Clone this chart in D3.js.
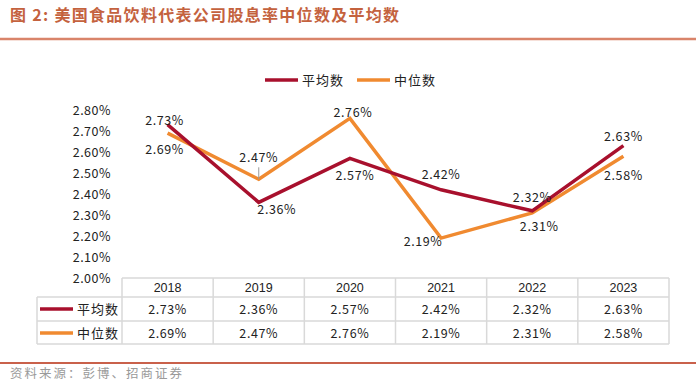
<!DOCTYPE html>
<html>
<meta charset="utf-8">
<head>
    <script src="https://d3js.org/d3.v7.min.js"></script>
    <style>
        body { margin: 0; background: #fff; }
        text { font-family: "Noto Sans CJK SC", "Noto Sans", sans-serif; }
    </style>
</head>
<body>
    <script>
        // data
        var years = ["2018", "2019", "2020", "2021", "2022", "2023"];
        var meanVals = [2.73, 2.36, 2.57, 2.42, 2.32, 2.63];
        var medianVals = [2.69, 2.47, 2.76, 2.19, 2.31, 2.58];
        var yTicks = [2.0, 2.1, 2.2, 2.3, 2.4, 2.5, 2.6, 2.7, 2.8];
        var seriesNames = ["平均数", "中位数"];

        // label offsets from each point (label placement only)
        var meanOffsets = [[-3, -4], [18, 7], [5, 17], [0, -15], [0, -13], [0, -9]];
        var medianOffsets = [[-3, 16], [0, -22], [3, -6], [-18, 3], [7, 14], [0, 19]];

        var width = 700,
            height = 383;

        var colors = ["#a8102d", "#f08a30"];
        var fmt = function(v) { return v.toFixed(2) + "%"; };

        var svg = d3.select("body").append("svg")
            .attr("width", width)
            .attr("height", height);

        // title
        svg.append("text")
            .attr("x", 10)
            .attr("y", 21)
            .attr("fill", "#c4623e")
            .attr("font-size", 16)
            .attr("font-weight", 600)
            .attr("letter-spacing", 1.3)
            .text("图 2:  美国食品饮料代表公司股息率中位数及平均数");

        svg.append("line")
            .attr("x1", 0).attr("x2", 696)
            .attr("y1", 39).attr("y2", 39)
            .attr("stroke", "#d9846a")
            .attr("stroke-width", 2.5);

        var x = d3.scaleBand()
            .domain(years)
            .range([122, 669]);

        var y = d3.scaleLinear()
            .domain([2.0, 2.8])
            .range([278, 110]);

        var cx = function(i) { return x(years[i]) + x.bandwidth() / 2; };

        // y axis labels
        var yAxis = d3.axisLeft(y)
            .tickValues(yTicks)
            .tickSize(0)
            .tickPadding(0)
            .tickFormat(fmt);

        var gy = svg.append("g")
            .attr("transform", "translate(111,0)")
            .call(yAxis);
        gy.select(".domain").remove();
        gy.selectAll("text")
            .attr("font-size", 12.5)
            .attr("letter-spacing", 0.5)
            .attr("fill", "#222")
            .style("font-family", "\"Noto Sans CJK SC\", sans-serif");

        // legend
        var legendX = [265, 357];
        seriesNames.forEach(function(name, k) {
            var lg = svg.append("g").attr("transform", "translate(" + legendX[k] + ",80)");
            lg.append("line")
                .attr("x1", 0).attr("x2", 33)
                .attr("stroke", colors[k])
                .attr("stroke-width", 3.5);
            lg.append("text")
                .attr("x", 37)
                .attr("y", 5)
                .attr("font-size", 13)
                .attr("letter-spacing", 1)
                .attr("fill", "#222")
                .text(name);
        });

        // lines
        var line = d3.line()
            .x(function(d, i) { return cx(i); })
            .y(function(d) { return y(d); });

        var allVals = [meanVals, medianVals];
        var allOffsets = [meanOffsets, medianOffsets];

        // draw median first, then mean on top
        [1, 0].forEach(function(k) {
            svg.append("path")
                .datum(allVals[k])
                .attr("d", line)
                .attr("fill", "none")
                .attr("stroke", colors[k])
                .attr("stroke-width", 3.5)
                .attr("stroke-linejoin", "miter");
        });

        // leader line for 2019 median label
        svg.append("line")
            .attr("x1", cx(1)).attr("x2", cx(1))
            .attr("y1", y(medianVals[1]) + medianOffsets[1][1] + 10)
            .attr("y2", y(medianVals[1]))
            .attr("stroke", "#999")
            .attr("stroke-width", 1);

        // data labels
        [0, 1].forEach(function(k) {
            svg.append("g").selectAll("text")
                .data(allVals[k])
                .enter()
                .append("text")
                .attr("x", function(d, i) { return cx(i) + allOffsets[k][i][0]; })
                .attr("y", function(d, i) { return y(d) + allOffsets[k][i][1] + 4.5; })
                .attr("text-anchor", "middle")
                .attr("font-size", 12.5)
                .attr("letter-spacing", 0.6)
                .attr("fill", "#222")
                .text(fmt);
        });

        // data table
        var rows = [278, 297, 321, 344];
        var tableLeft = 37,
            tableRight = 669;
        var grid = svg.append("g")
            .attr("stroke", "#d9d9d9")
            .attr("stroke-width", 1.5);

        grid.append("line").attr("x1", 122).attr("x2", tableRight).attr("y1", rows[0]).attr("y2", rows[0]);
        rows.slice(1).forEach(function(r) {
            grid.append("line").attr("x1", tableLeft).attr("x2", tableRight).attr("y1", r).attr("y2", r);
        });
        grid.append("line").attr("x1", tableLeft).attr("x2", tableLeft).attr("y1", rows[1]).attr("y2", rows[3]);
        years.forEach(function(yr) {
            grid.append("line").attr("x1", x(yr)).attr("x2", x(yr)).attr("y1", rows[0]).attr("y2", rows[3]);
        });
        grid.append("line").attr("x1", tableRight).attr("x2", tableRight).attr("y1", rows[0]).attr("y2", rows[3]);

        svg.append("g").selectAll("text")
            .data(years)
            .enter()
            .append("text")
            .attr("x", function(d, i) { return cx(i); })
            .attr("y", 292)
            .attr("text-anchor", "middle")
            .attr("font-size", 12.5)
            .attr("fill", "#222")
            .style("font-family", "Arial, \"Liberation Sans\", sans-serif")
            .text(function(d) { return d; });

        var rowMid = [309, 333];
        [0, 1].forEach(function(k) {
            svg.append("line")
                .attr("x1", 40).attr("x2", 73)
                .attr("y1", rowMid[k]).attr("y2", rowMid[k])
                .attr("stroke", colors[k])
                .attr("stroke-width", 3.5);
            svg.append("text")
                .attr("x", 77)
                .attr("y", rowMid[k] + 5)
                .attr("font-size", 13)
                .attr("letter-spacing", 1)
                .attr("fill", "#222")
                .text(seriesNames[k]);
            svg.append("g").selectAll("text")
                .data(allVals[k])
                .enter()
                .append("text")
                .attr("x", function(d, i) { return cx(i); })
                .attr("y", rowMid[k] + 4.5)
                .attr("text-anchor", "middle")
                .attr("font-size", 12.5)
                .attr("letter-spacing", 0.6)
                .attr("fill", "#222")
                .text(fmt);
        });

        // footer
        svg.append("line")
            .attr("x1", 0).attr("x2", 696)
            .attr("y1", 363).attr("y2", 363)
            .attr("stroke", "#c9614b")
            .attr("stroke-width", 2);

        svg.append("text")
            .attr("x", 10)
            .attr("y", 378)
            .attr("font-size", 12.5)
            .attr("letter-spacing", 2)
            .attr("fill", "#9a9a9a")
            .text("资料来源：彭博、招商证券");
    </script>
</body>
</html>
